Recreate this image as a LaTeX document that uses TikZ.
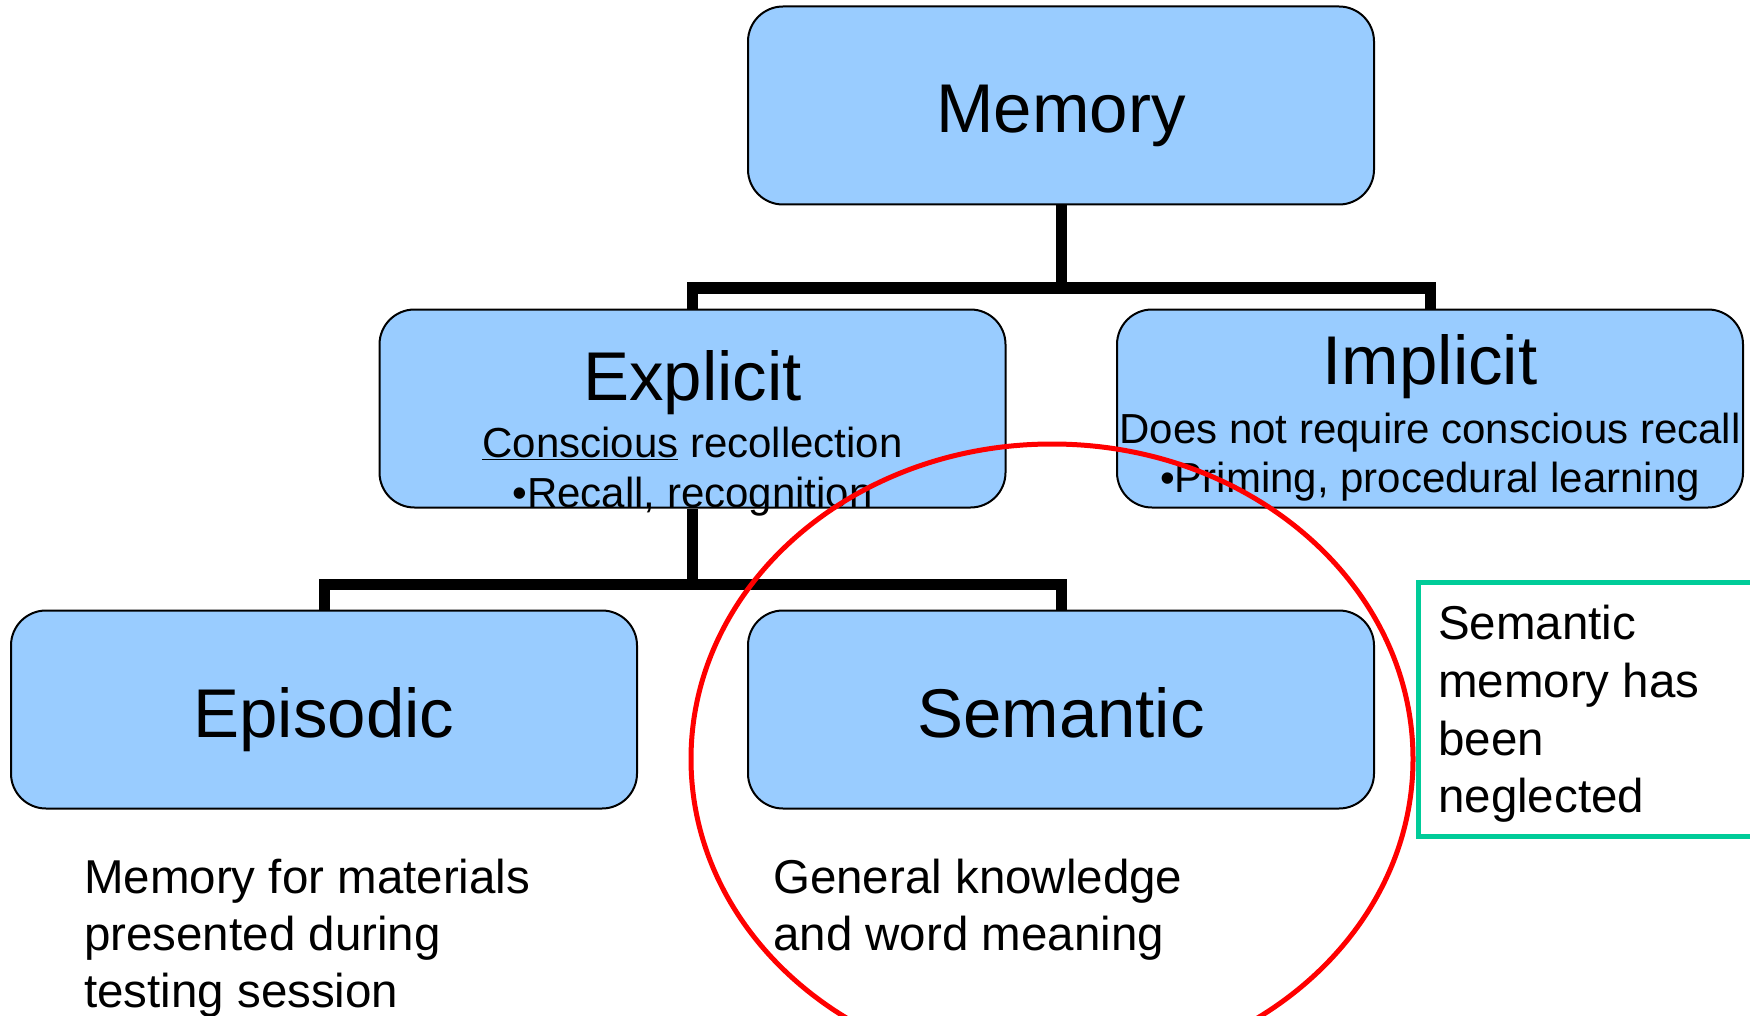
\documentclass[tikz,border=0pt]{standalone}
\usepackage{fontspec}
\setmainfont{Liberation Sans}
\definecolor{boxblue}{HTML}{99CCFF}
\definecolor{ringred}{HTML}{FF0000}
\definecolor{notegreen}{HTML}{00CC99}
\begin{document}
\begin{tikzpicture}[x=1pt,y=-1pt,
  membox/.style={draw=black, line width=2pt, fill=boxblue, rounded corners=35pt,
    minimum width=626pt, minimum height=198pt, inner sep=0pt,
    font=\fontsize{69}{80}\selectfont, text height=55pt, text depth=0pt},
  conn/.style={line width=11pt, line join=miter, draw=black},
  bigtxt/.style={inner sep=0pt, anchor=base, font=\fontsize{69}{80}\selectfont},
  midtxt/.style={inner sep=0pt, anchor=base, font=\fontsize{42}{48}\selectfont},
  bodytxt/.style={inner sep=0pt, anchor=base west, font=\fontsize{47.5}{57}\selectfont},
  notebox/.style={draw=notegreen, line width=4.5pt, inner sep=0pt, anchor=north west,
    minimum width=350pt, minimum height=254pt},
  ring/.style={draw=ringred, line width=5pt}
]
\clip (0,0) rectangle (1750,1016);
\fill[white] (0,0) rectangle (1750,1016);

% boxes
\node[membox] (mem) at (1061,105.5) {Memory};
\node[membox] (exp) at (692.5,408.5) {};
\node[membox] (imp) at (1430,408.5) {};
\node[membox] (epi) at (324,709.5) {Episodic};
\node[membox] (sem) at (1061,709.5) {Semantic};

% junctions
\coordinate (j1) at (1061,288);
\coordinate (j2) at (692.5,584);

% connectors
\draw[conn] (mem.south) -- (j1);
\draw[conn] (exp.north) -- (exp.north |- j1) -- (imp.north |- j1) -- (imp.north);
\draw[conn] (exp.south) -- (j2);
\draw[conn] (epi.north) -- (epi.north |- j2) -- (sem.north |- j2) -- (sem.north);

% explicit text
\node[bigtxt] (expT) at (692.5,400) {Explicit};
\node[midtxt] (expA) at (692.5,457) {\underline{Conscious} recollection};
\node[midtxt] (expB) at (692.5,507) {•Recall, recognition};

% implicit text
\node[bigtxt] (impT) at (1430,384) {Implicit};
\node[midtxt] (impA) at (1430,443) {Does not require conscious recall};
\node[midtxt] (impB) at (1430,492) {•Priming, procedural learning};

% descriptions
\node[bodytxt] (epiA) at (84,893) {Memory for materials};
\node[bodytxt] (epiB) at (84,950) {presented during};
\node[bodytxt] (epiC) at (84,1007) {testing session};
\node[bodytxt] (semA) at (773,893) {General knowledge};
\node[bodytxt] (semB) at (773,950) {and word meaning};

% note
\node[notebox] (note) at (1416,580) {};
\node[bodytxt] (noteA) at (1438,639) {Semantic};
\node[bodytxt] (noteB) at (1438,697) {memory has};
\node[bodytxt] (noteC) at (1438,755) {been};
\node[bodytxt] (noteD) at (1438,812) {neglected};

% red ring
\draw[ring] (1052,759) ellipse [x radius=361pt, y radius=315pt];
\end{tikzpicture}
\end{document}
